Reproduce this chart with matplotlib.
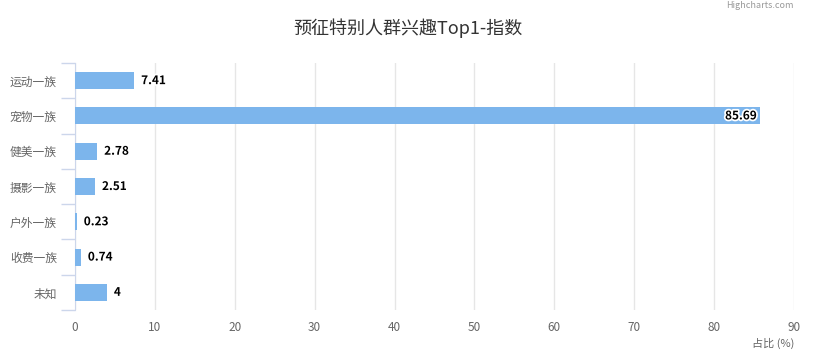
import matplotlib
matplotlib.use("Agg")
import matplotlib.pyplot as plt
import matplotlib.patheffects as pe

plt.rcParams['font.family'] = ['Noto Sans CJK SC', 'DejaVu Sans']

# 数据
categories = ["运动一族", "宠物一族", "健美一族", "摄影一族", "户外一族", "收费一族", "未知"]
values = [7.41, 85.69, 2.78, 2.51, 0.23, 0.74, 4]
labels = ["7.41", "85.69", "2.78", "2.51", "0.23", "0.74", "4"]
xticks = [0, 10, 20, 30, 40, 50, 60, 70, 80, 90]

W, H = 815, 360
fig = plt.figure(figsize=(W / 100, H / 100), dpi=100)
ax = fig.add_axes([75 / W, 1 - 310 / H, (794 - 75) / W, (310 - 63) / H])

y = list(range(len(categories)))
ax.barh(y, values, height=0.48, color="#7cb5ec", zorder=3)
ax.set_ylim(len(categories) - 0.5, -0.5)
ax.set_xlim(0, 90)

# 网格
ax.set_xticks(xticks)
ax.xaxis.grid(True, color="#e6e6e6", linewidth=1, zorder=0)
ax.tick_params(axis="x", length=0, pad=8, labelsize=8.5, labelcolor="#666666")
ax.set_yticks(y)
ax.set_yticklabels(categories)
ax.tick_params(axis="y", which="major", length=0, pad=13, labelsize=8.5, labelcolor="#666666")
ax.set_yticks([i - 0.5 for i in range(len(categories) + 1)], minor=True)
ax.tick_params(axis="y", which="minor", length=10, color="#ccd6eb", width=1)

for s in ["top", "right", "bottom"]:
    ax.spines[s].set_visible(False)
ax.spines["left"].set_color("#ccd6eb")

# 数据标签
outline = [pe.withStroke(linewidth=2.5, foreground="white")]
for i, (v, t) in enumerate(zip(values, labels)):
    if v > 80:
        ax.annotate(t, (v, i), xytext=(-2, 0), textcoords="offset points",
                    ha="right", va="center", fontsize=8.5, fontweight="bold",
                    color="black", path_effects=outline, zorder=5)
    else:
        ax.annotate(t, (v, i), xytext=(5, 0), textcoords="offset points",
                    ha="left", va="center", fontsize=8.5, fontweight="bold",
                    color="black", path_effects=outline, zorder=5)

fig.text(0.5, 1 - 28 / H, "预征特别人群兴趣Top1-指数", ha="center", va="center",
         fontsize=13, color="#333333")
fig.text(794 / W, 1 - 343 / H, "占比 (%)", ha="right", va="center",
         fontsize=8, color="#666666")
fig.text(794 / W, 1 - 1 / H, "Highcharts.com", ha="right", va="top",
         fontsize=6.5, color="#999999")

fig.savefig("out.png", dpi=100)
